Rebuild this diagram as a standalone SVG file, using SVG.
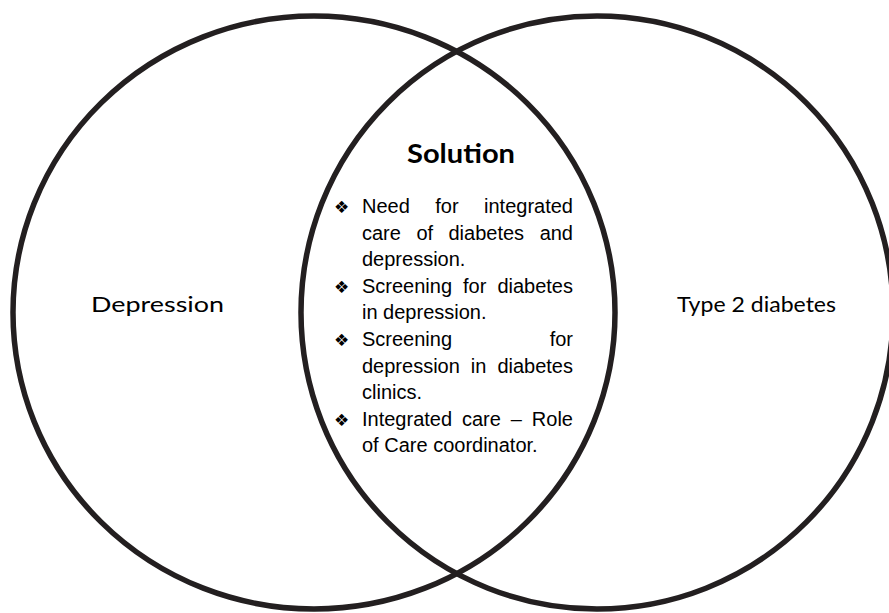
<svg xmlns="http://www.w3.org/2000/svg" width="889" height="613" viewBox="0 0 889 613">
<style>
.c{fill:none;stroke:#231f20;stroke-width:5.5}
.lbl{font-family:Lato,"Open Sans","Liberation Sans",sans-serif;font-size:22px;fill:#000}
.ttl{font-family:Lato,"Open Sans","Liberation Sans",sans-serif;font-size:27px;font-weight:bold;fill:#000}
.b{font-family:"Liberation Sans",Arial,sans-serif;font-size:20px;fill:#000}
.bul{font-family:"DejaVu Sans",sans-serif;font-size:17px;fill:#000}
</style>
<rect width="889" height="613" fill="#fff"/>
<g id="depression">
<ellipse class="c" cx="314" cy="312.5" rx="301" ry="296.5"/>
<text class="lbl" x="91" y="312" textLength="133" lengthAdjust="spacingAndGlyphs">Depression</text>
</g>
<g id="diabetes">
<ellipse class="c" cx="597" cy="312.5" rx="296" ry="296.5"/>
<text class="lbl" x="677" y="312" textLength="159" lengthAdjust="spacingAndGlyphs">Type 2 diabetes</text>
</g>
<g id="solution">
<text class="ttl" x="407" y="163" textLength="108" lengthAdjust="spacingAndGlyphs">Solution</text>
<text class="bul" x="334" y="213">❖</text>
<text class="bul" x="334" y="293">❖</text>
<text class="bul" x="334" y="346">❖</text>
<text class="bul" x="334" y="426">❖</text>
<g class="b">
<text x="362" y="213">Need</text>
<text x="435.3" y="213">for</text>
<text x="573" y="213" text-anchor="end">integrated</text>
<text x="362" y="239.6">care</text>
<text x="416.4" y="239.6">of</text>
<text x="448.5" y="239.6">diabetes</text>
<text x="573" y="239.6" text-anchor="end">and</text>
<text x="362" y="266.2">depression.</text>
<text x="362" y="292.8">Screening</text>
<text x="463" y="292.8">for</text>
<text x="573" y="292.8" text-anchor="end">diabetes</text>
<text x="362" y="319.4">in depression.</text>
<text x="362" y="346">Screening</text>
<text x="573" y="346" text-anchor="end">for</text>
<text x="362" y="372.6">depression</text>
<text x="470.8" y="372.6">in</text>
<text x="573" y="372.6" text-anchor="end">diabetes</text>
<text x="362" y="399.2">clinics.</text>
<text x="362" y="425.8">Integrated</text>
<text x="462" y="425.8">care</text>
<text x="510.8" y="425.8">–</text>
<text x="573" y="425.8" text-anchor="end">Role</text>
<text x="362" y="452.4">of Care coordinator.</text>
</g>
</g>
</svg>
